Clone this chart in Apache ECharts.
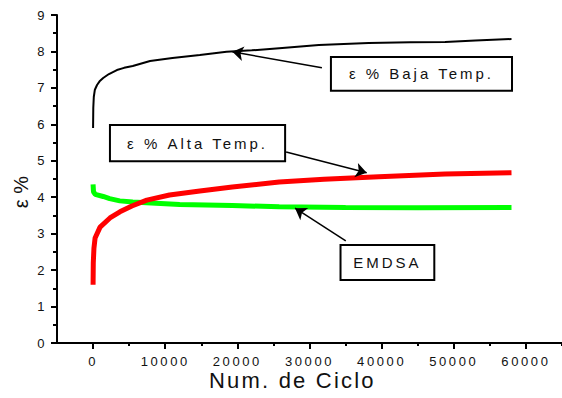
<!DOCTYPE html>
<html><head><meta charset="utf-8">
<script src="https://cdn.jsdelivr.net/npm/echarts@6/dist/echarts.min.js"></script>
<style>
html,body{margin:0;padding:0;background:#fff;overflow:hidden;}
#c{width:562px;height:398px;}
#c text{letter-spacing:0.2em;}
#c text[style*="22px"]{letter-spacing:0.1em;}
#c text[style*="20px"]{letter-spacing:0;}
</style></head><body><div id="c"></div>
<script>
// ---- data ----
const xLabelTicks = [0, 10000, 20000, 30000, 40000, 50000, 60000];
const xMinorTicks = [5000, 15000, 25000, 35000, 45000, 55000, 65000];
const yLabelTicks = [0, 1, 2, 3, 4, 5, 6, 7, 8, 9];

const bajaX = [0, 30, 100, 250, 550, 900, 1400, 2200, 3300, 4300, 5500, 7900, 11000, 14800, 18500, 22000, 25800, 31300, 38200, 44000, 48800, 53000, 58000];
const bajaY = [5.9, 6.45, 6.75, 6.95, 7.08, 7.18, 7.27, 7.38, 7.49, 7.55, 7.6, 7.74, 7.82, 7.9, 7.99, 8.03, 8.09, 8.18, 8.23, 8.25, 8.26, 8.3, 8.34];

const altaX = [0, 30, 120, 280, 970, 2340, 3720, 5380, 7450, 10600, 14800, 19300, 25800, 32000, 39600, 48800, 58000];
const altaY = [1.6, 2.2, 2.6, 2.88, 3.18, 3.43, 3.6, 3.76, 3.92, 4.06, 4.17, 4.28, 4.42, 4.49, 4.56, 4.64, 4.67];

const emdsaX = [0, 60, 300, 1400, 2300, 3700, 5500, 7400, 12000, 19300, 25800, 35000, 45000, 58000];
const emdsaY = [4.35, 4.15, 4.08, 4.02, 3.96, 3.9, 3.87, 3.85, 3.8, 3.77, 3.74, 3.72, 3.71, 3.72];

const labelBaja = 'ε % Baja Temp.';
const labelAlta = 'ε % Alta Temp.';
const labelEmdsa = 'EMDSA';
const xTitle = 'Num. de Ciclo';
const yTitle = 'ε %';

// ---- chart ----
const zip = (a, b) => a.map((v, i) => [v, b[i]]);
const FONT = 'Arial, "Liberation Sans", sans-serif';
const chart = echarts.init(document.getElementById('c'), null, {renderer: 'svg'});

const boxStyle = {color: '#ffffff', borderColor: '#000', borderWidth: 2};
const boxLabel = {show: true, position: 'inside', color: '#111', fontSize: 15, fontFamily: FONT};

chart.setOption({
  animation: false,
  backgroundColor: '#fff',
  grid: {left: 57, top: 15, width: 507, height: 328, containLabel: false},
  xAxis: [{
    type: 'value', min: -5000, max: 65000,
    axisLine: {onZero: false, lineStyle: {color: '#000', width: 2}},
    axisTick: {customValues: xLabelTicks, length: 6, lineStyle: {color: '#000', width: 2}},
    axisLabel: {customValues: xLabelTicks, color: '#111', fontSize: 13, fontFamily: FONT, margin: 12,
                formatter: v => String(v)},
    splitLine: {show: false}
  }, {
    type: 'value', min: -5000, max: 65000, position: 'bottom', offset: 0,
    axisLine: {show: false, onZero: false},
    axisTick: {customValues: xMinorTicks, length: 3, lineStyle: {color: '#000', width: 2}},
    axisLabel: {show: false},
    splitLine: {show: false}
  }],
  yAxis: {
    type: 'value', min: 0, max: 9, interval: 1,
    axisLine: {show: true, onZero: false, lineStyle: {color: '#000', width: 2}},
    axisTick: {show: true, length: 6, lineStyle: {color: '#000', width: 2}},
    minorTick: {show: true, splitNumber: 2, length: 4, lineStyle: {color: '#000', width: 2}},
    axisLabel: {color: '#111', fontSize: 13, fontFamily: FONT, margin: 10, formatter: v => String(v)},
    splitLine: {show: false}
  },
  graphic: [
    {type: 'text', left: 292 - 83, top: 369, style: {text: xTitle, fontSize: 22, fontFamily: FONT, fill: '#111'}},
    {type: 'text', x: 21, y: 192, rotation: Math.PI / 2,
     style: {text: yTitle, fontSize: 20, fontFamily: FONT, fill: '#111', textAlign: 'center', textVerticalAlign: 'middle'}}
  ],
  series: [
    {
      name: labelEmdsa, type: 'line', showSymbol: false, data: zip(emdsaX, emdsaY),
      lineStyle: {color: '#00ff00', width: 5}, itemStyle: {color: '#00ff00'}, z: 2,
      markArea: {silent: true, itemStyle: boxStyle, label: boxLabel,
        data: [[{name: labelEmdsa, coord: [34300, 2.69]}, {coord: [47300, 1.73]}]]}
    },
    {
      name: labelAlta, type: 'line', showSymbol: false, data: zip(altaX, altaY),
      lineStyle: {color: '#ff0000', width: 5}, itemStyle: {color: '#ff0000'}, z: 3,
      markArea: {silent: true, itemStyle: boxStyle, label: boxLabel,
        data: [[{name: labelAlta, coord: [2340, 5.98]}, {coord: [26620, 4.99]}]]}
    },
    {
      name: labelBaja, type: 'line', showSymbol: false, data: zip(bajaX, bajaY),
      lineStyle: {color: '#000', width: 2}, itemStyle: {color: '#000'}, z: 4,
      markArea: {silent: true, itemStyle: boxStyle, label: boxLabel,
        data: [[{name: labelBaja, coord: [32970, 7.85]}, {coord: [58070, 6.92]}]]}
    },
    {
      name: 'arrows', type: 'line', data: [], z: 10,
      markLine: {
        silent: true, symbol: ['none', 'arrow'], symbolSize: 11,
        label: {show: false},
        itemStyle: {color: '#000'},
        lineStyle: {color: '#000', width: 1.5, type: 'solid'},
        emphasis: {disabled: true},
        data: [
          [{coord: [31720, 7.55]}, {coord: [19310, 7.99]}],
          [{coord: [26760, 5.24]}, {coord: [37930, 4.67]}],
          [{coord: [35030, 2.8]}, {coord: [28000, 3.7]}]
        ]
      }
    }
  ]
});
</script>
</body></html>
